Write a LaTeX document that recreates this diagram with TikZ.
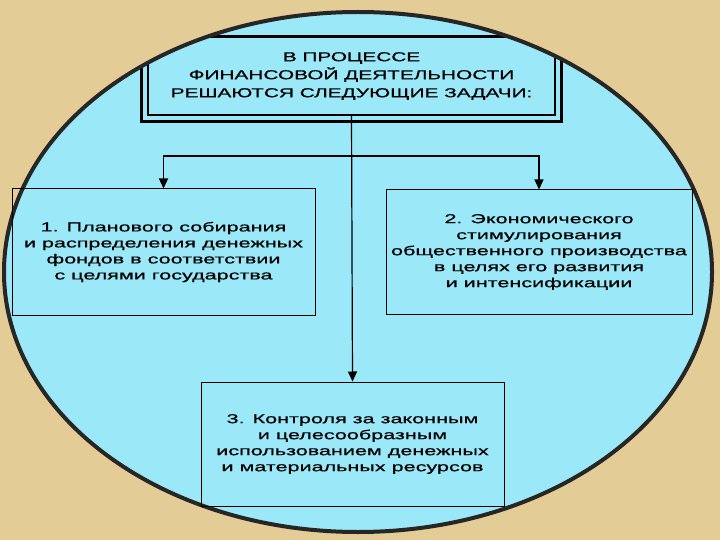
\documentclass[tikz,border=0pt]{standalone}
\usepackage{fontspec}
\setmainfont{Liberation Sans}
\newfontfamily\widefont[FakeStretch=1.6,FakeBold=0.6]{Liberation Sans}
\newfontfamily\widerfont[FakeStretch=1.66,FakeBold=0.6]{Liberation Sans}
\usetikzlibrary{arrows.meta}
\definecolor{paper}{RGB}{228,204,150}
\definecolor{sky}{RGB}{155,232,248}
\tikzset{
	headbox/.style={draw, line width=1.2pt, minimum width=407pt, minimum height=78pt, align=center, font=\widefont\fontsize{13}{18}\selectfont},
	taskbox/.style={draw, line width=1pt, minimum width=303pt, minimum height=124pt, align=center, font=\widerfont\fontsize{13}{16}\selectfont},
	link/.style={line width=1.2pt, -{Triangle[length=10pt,width=9pt]}}
}
\begin{document}
\begin{tikzpicture}[x=1pt,y=-1pt]
	\useasboundingbox (0,0) rectangle (720,540);
	\fill[paper] (0,0) rectangle (720,540);
	\fill[sky] (358,272) ellipse (354pt and 260pt);
	\begin{scope}
	\clip (358,272) ellipse (354pt and 260pt);
	\node[headbox] (head) at (351.5,76) {В ПРОЦЕССЕ\\ФИНАНСОВОЙ ДЕЯТЕЛЬНОСТИ\\РЕШАЮТСЯ СЛЕДУЮЩИЕ ЗАДАЧИ:};
	\draw[line width=2.5pt] ([xshift=-6pt,yshift=-6pt]head.south west) rectangle ([xshift=6pt]head.north east);
	\end{scope}
	\draw[line width=4pt, black!85] (358,272) ellipse (354pt and 260pt);
	\node[taskbox, minimum height=126pt] (plan) at (163.5,252) {1. Планового собирания\\и распределения денежных\\фондов в соответствии\\с целями государства};
	\node[taskbox, minimum width=306pt] (stim) at (539,252) {2. Экономического\\стимулирования\\общественного производства\\в целях его развития\\и интенсификации};
	\node[taskbox] (control) at (352.5,444) {3. Контроля за законным\\и целесообразным\\использованием денежных\\и материальных ресурсов};
	\coordinate (fork) at (352,156);
	\draw[link] (head.south) -- (control.north);
	\draw[link] (fork) -| (plan.north);
	\draw[link] (fork) -| (stim.north);
\end{tikzpicture}
\end{document}
